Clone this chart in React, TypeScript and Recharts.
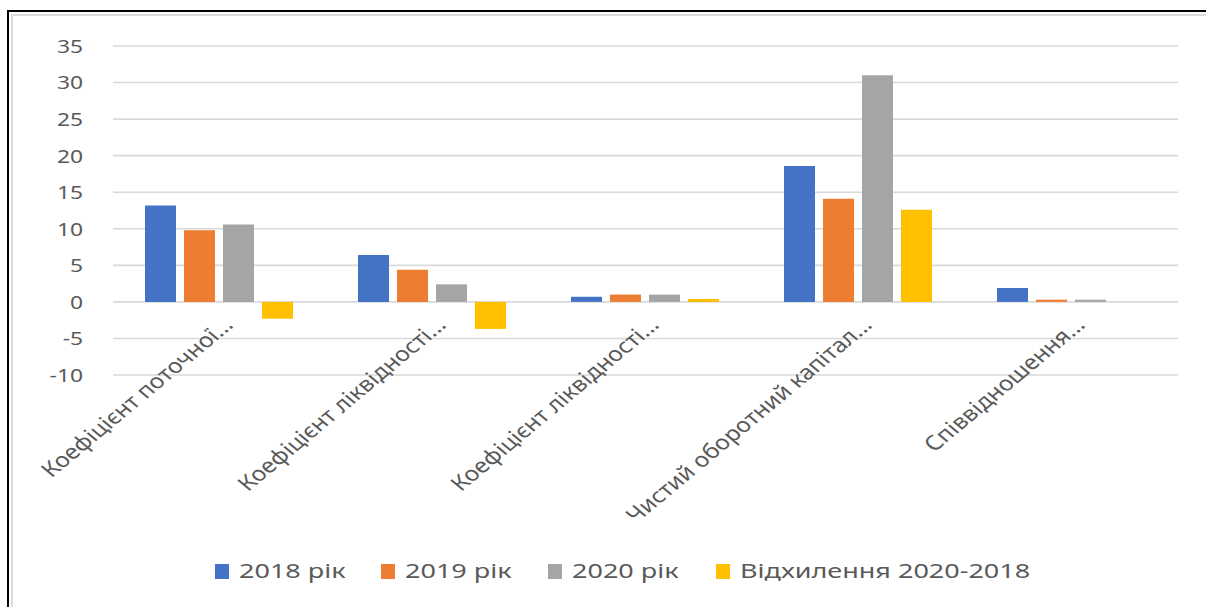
import React from "react";
import { BarChart, Bar, XAxis, YAxis, CartesianGrid, Legend } from "recharts";

const categories = [
  "Коефіцієнт поточної...",
  "Коефіцієнт ліквідності...",
  "Коефіцієнт ліквідності...",
  "Чистий оборотний капітал...",
  "Співвідношення...",
];
const values2018 = [13.2, 6.4, 0.7, 18.6, 1.9];
const values2019 = [9.8, 4.4, 1.0, 14.1, 0.3];
const values2020 = [10.6, 2.4, 1.0, 31.0, 0.3];
const valuesDeviation = [-2.3, -3.7, 0.4, 12.6, 0];
const yTicks = [-10, -5, 0, 5, 10, 15, 20, 25, 30, 35];

const seriesNames = ["2018 рік", "2019 рік", "2020 рік", "Відхилення 2020-2018"];
const seriesColors = ["#4472C4", "#ED7D31", "#A5A5A5", "#FFC000"];
const seriesKeys = ["y2018", "y2019", "y2020", "dev"];

const data = categories.map((name, i) => ({
  name,
  y2018: values2018[i],
  y2019: values2019[i],
  y2020: values2020[i],
  dev: valuesDeviation[i],
}));

const FONT = "'Noto Sans', 'Open Sans', sans-serif";
const TEXT = "#595959";

const YTick = (props: any) => {
  const { x, y, payload } = props;
  return (
    <text
      transform={`translate(${x},${y}) scale(1.2,1)`}
      textAnchor="end"
      dy="0.36em"
      fill={TEXT}
      fontSize={19}
      fontFamily={FONT}
    >
      {payload.value}
    </text>
  );
};

const XTick = (props: any) => {
  const { x, y, payload } = props;
  return (
    <text
      transform={`translate(${x + 15},${y - 49}) scale(1.2,1) rotate(-45)`}
      textAnchor="end"
      fill={TEXT}
      fontSize={20.5}
      fontFamily={FONT}
    >
      {payload.value}
    </text>
  );
};

const legendLefts = [215, 381, 548, 716];

const LegendContent = (props: any) => {
  const payload = props.payload || [];
  return (
    <div style={{ position: "relative", height: 60, width: 1206 }}>
      {payload.map((entry: any, i: number) => (
        <div
          key={i}
          style={{
            position: "absolute",
            left: legendLefts[i],
            top: 13,
            height: 22,
            display: "flex",
            alignItems: "center",
            whiteSpace: "nowrap",
          }}
        >
          <span
            style={{
              display: "inline-block",
              width: 14,
              height: 15,
              background: entry.color,
              marginRight: 10,
            }}
          />
          <span
            style={{
              display: "inline-block",
              transform: "scaleX(1.35)",
              transformOrigin: "left center",
              color: TEXT,
              fontSize: 20,
              fontFamily: FONT,
              lineHeight: "22px",
            }}
          >
            {entry.value}
          </span>
        </div>
      ))}
    </div>
  );
};

export default function App() {
  return (
    <div style={{ position: "absolute", left: 0, top: 0, width: 1206, height: 607, background: "#fff", overflow: "hidden" }}>
      <div
        style={{
          position: "absolute",
          left: 7,
          top: 10,
          width: 1199,
          height: 597,
          borderLeft: "2px solid #000",
          borderTop: "2px solid #000",
          boxSizing: "border-box",
        }}
      />
      <div
        style={{
          position: "absolute",
          left: 11,
          top: 14,
          width: 1195,
          height: 593,
          borderLeft: "2px solid #dcdcdc",
          borderTop: "2px solid #dcdcdc",
          boxSizing: "border-box",
        }}
      />
      <div style={{ position: "absolute", left: 0, top: 0 }}>
        <BarChart
          width={1206}
          height={607}
          data={data}
          margin={{ top: 46, right: 28, left: 10, bottom: 0 }}
          barCategoryGap={32}
          barGap={8}
        >
          <CartesianGrid vertical={false} stroke="#d9d9d9" strokeWidth={1.6} />
          <XAxis
            dataKey="name"
            height={172}
            axisLine={false}
            tickLine={false}
            tickSize={0}
            tickMargin={0}
            interval={0}
            tick={<XTick />}
          />
          <YAxis
            width={103}
            domain={[-10, 35]}
            ticks={yTicks}
            axisLine={false}
            tickLine={false}
            tickSize={0}
            tickMargin={30}
            tick={<YTick />}
          />
          <Legend
            verticalAlign="bottom"
            content={<LegendContent />}
            wrapperStyle={{ left: 0, width: 1206, height: 60 }}
          />
          {seriesKeys.map((k, i) => (
            <Bar
              key={k}
              dataKey={k}
              name={seriesNames[i]}
              fill={seriesColors[i]}
              isAnimationActive={false}
            />
          ))}
        </BarChart>
      </div>
    </div>
  );
}
